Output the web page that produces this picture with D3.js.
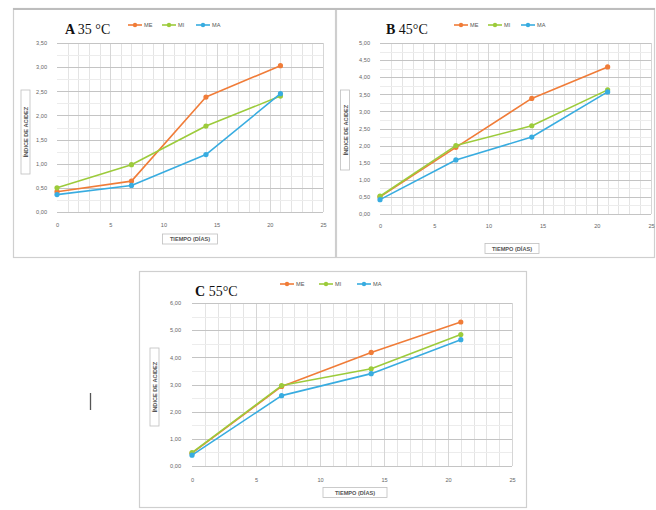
<!DOCTYPE html>
<html><head><meta charset="utf-8">
<script src="https://cdn.jsdelivr.net/npm/d3@7/dist/d3.min.js"></script>
<style>body{margin:0;background:#fff;}svg{display:block;}</style>
</head><body>
<svg id="c" width="656" height="510"></svg>
<script>
const days = [0, 7, 14, 21];
const xTicks = [0, 5, 10, 15, 20, 25];
const seriesNames = ["ME", "MI", "MA"];
const colors = ["#F07C38", "#9CCB3B", "#38ACE0"];

const A_ME = [0.42, 0.64, 2.38, 3.03];
const A_MI = [0.50, 0.98, 1.78, 2.40];
const A_MA = [0.36, 0.55, 1.19, 2.45];
const A_yTicks = [0, 0.5, 1, 1.5, 2, 2.5, 3, 3.5];

const B_ME = [0.50, 1.95, 3.38, 4.30];
const B_MI = [0.52, 2.00, 2.58, 3.63];
const B_MA = [0.42, 1.58, 2.25, 3.57];
const B_yTicks = [0, 0.5, 1, 1.5, 2, 2.5, 3, 3.5, 4, 4.5, 5];

const C_ME = [0.47, 2.93, 4.18, 5.30];
const C_MI = [0.49, 2.96, 3.58, 4.84];
const C_MA = [0.40, 2.59, 3.40, 4.65];
const C_yTicks = [0, 1, 2, 3, 4, 5, 6];

const svg = d3.select("#c");
const fmt = v => d3.format(".2f")(v).replace(".", ",");

function frame(x, y, w, h) {
  svg.append("rect").attr("x", x).attr("y", y).attr("width", w).attr("height", h)
    .attr("fill", "#fff").attr("stroke", "#cfcfcf").attr("stroke-width", 1.2);
}
frame(13.5, 8.5, 322, 249);
frame(336.5, 8.5, 318, 249);
svg.append("line").attr("x1", 13).attr("x2", 655).attr("y1", 9).attr("y2", 9).attr("stroke", "#bdbdbd").attr("stroke-width", 2);
frame(139.5, 271.5, 387, 236);
svg.append("line").attr("x1", 90.5).attr("x2", 90.5).attr("y1", 393).attr("y2", 410).attr("stroke", "#555").attr("stroke-width", 1.3);

function panel(cfg) {
  const g = svg.append("g");
  const x = d3.scaleLinear().domain([0, 25]).range([cfg.x0, cfg.x1]);
  const yMax = cfg.yTicks[cfg.yTicks.length - 1];
  const y = d3.scaleLinear().domain([0, yMax]).range([cfg.y0, cfg.y1]);
  const step = cfg.yTicks[1] - cfg.yTicks[0];
  g.append("g").selectAll("line").data(d3.range(1, 25).filter(d => d % 5 !== 0)).join("line")
    .attr("x1", d => Math.round(x(d)) + 0.5).attr("x2", d => Math.round(x(d)) + 0.5)
    .attr("y1", cfg.y0).attr("y2", cfg.y1).attr("stroke", "#e4e4e4").attr("stroke-width", 1);
  const minor = [];
  cfg.yTicks.slice(0, -1).forEach(t => { minor.push(t + step / 2); });
  g.append("g").selectAll("line").data(minor).join("line")
    .attr("x1", cfg.x0).attr("x2", cfg.x1)
    .attr("y1", d => Math.round(y(d)) + 0.5).attr("y2", d => Math.round(y(d)) + 0.5)
    .attr("stroke", "#ececec");
  g.append("g").selectAll("line").data(xTicks.slice(1)).join("line")
    .attr("x1", d => Math.round(x(d)) + 0.5).attr("x2", d => Math.round(x(d)) + 0.5)
    .attr("y1", cfg.y0).attr("y2", cfg.y1).attr("stroke", "#d6d6d6");
  g.append("g").selectAll("line").data(cfg.yTicks).join("line")
    .attr("x1", cfg.x0).attr("x2", cfg.x1)
    .attr("y1", d => Math.round(y(d)) + 0.5).attr("y2", d => Math.round(y(d)) + 0.5)
    .attr("stroke", "#c4c4c4").attr("stroke-width", 1.2);

  const ya = d3.axisLeft(y).tickValues(cfg.yTicks).tickFormat(fmt).tickSize(0).tickPadding(cfg.ypad);
  const yg = g.append("g").attr("transform", `translate(${cfg.x0},0)`).call(ya);
  yg.select(".domain").remove();
  yg.selectAll("text").attr("font-family", "Liberation Sans, Arial, sans-serif").attr("font-size", 5.6).attr("fill", "#666");
  const xa = d3.axisBottom(x).tickValues(xTicks).tickSize(0).tickPadding(cfg.xpad);
  const xg = g.append("g").attr("transform", `translate(0,${cfg.y0})`).call(xa);
  xg.select(".domain").remove();
  xg.selectAll("text").attr("font-family", "Liberation Sans, Arial, sans-serif").attr("font-size", 5.6).attr("fill", "#666");

  const yt = g.append("g").attr("transform", `translate(${cfg.ytx},${cfg.yty}) rotate(-90)`);
  yt.append("rect").attr("x", -cfg.ytw / 2).attr("y", -5).attr("width", cfg.ytw).attr("height", 9)
    .attr("fill", "#fff").attr("stroke", "#bfbfbf").attr("stroke-width", 0.8);
  yt.append("text").attr("text-anchor", "middle").attr("y", 2.2).attr("font-family", "Liberation Sans, Arial, sans-serif")
    .attr("font-size", 5.6).attr("font-weight", "bold").attr("fill", "#555").text("ÍNDICE DE ACIDEZ");
  const xt = g.append("g").attr("transform", `translate(${cfg.xtx},${cfg.xty})`);
  xt.append("rect").attr("x", -cfg.xtw / 2).attr("y", -5).attr("width", cfg.xtw).attr("height", 10)
    .attr("fill", "#fff").attr("stroke", "#bfbfbf").attr("stroke-width", 0.8);
  xt.append("text").attr("text-anchor", "middle").attr("y", 2.2).attr("font-family", "Liberation Sans, Arial, sans-serif")
    .attr("font-size", 5.6).attr("font-weight", "bold").attr("fill", "#555").text("TIEMPO (DÍAS)");

  const line = d3.line().x((d, i) => x(days[i])).y(d => y(d));
  cfg.series.forEach((s, k) => {
    g.append("path").datum(s).attr("d", line).attr("fill", "none")
      .attr("stroke", colors[k]).attr("stroke-width", 1.6).attr("stroke-linejoin", "round");
    g.append("g").selectAll("circle").data(s).join("circle")
      .attr("cx", (d, i) => x(days[i])).attr("cy", d => y(d)).attr("r", 2.6)
      .attr("fill", colors[k]);
  });

  const tt = g.append("text").attr("x", cfg.tx).attr("y", cfg.ty)
    .attr("font-family", "Liberation Serif, Times New Roman, serif").attr("font-size", 14).attr("fill", "#111");
  tt.append("tspan").attr("font-weight", "bold").text(cfg.letter + " ");
  tt.append("tspan").text(cfg.temp);

  cfg.legX.forEach((lx, k) => {
    const lg = g.append("g").attr("transform", `translate(${lx},${cfg.legY})`);
    lg.append("line").attr("x1", 0).attr("x2", 14).attr("stroke", colors[k]).attr("stroke-width", 1.6);
    lg.append("circle").attr("cx", 7).attr("r", 2.2).attr("fill", colors[k]);
    lg.append("text").attr("x", 16).attr("y", 2).attr("font-family", "Liberation Sans, Arial, sans-serif")
      .attr("font-size", 5.6).attr("fill", "#555").text(seriesNames[k]);
  });
}

panel({ x0: 57, x1: 323, y0: 212, y1: 43, yTicks: A_yTicks, series: [A_ME, A_MI, A_MA], ypad: 10, xpad: 11,
  ytx: 26, yty: 132, ytw: 84, xtx: 190, xty: 239, xtw: 55,
  letter: "A", temp: "35 °C", tx: 65, ty: 34, legX: [128, 162, 196], legY: 25 });
panel({ x0: 380, x1: 651, y0: 214, y1: 43, yTicks: B_yTicks, series: [B_ME, B_MI, B_MA], ypad: 10, xpad: 10,
  ytx: 345.5, yty: 130, ytw: 80, xtx: 512, xty: 248.5, xtw: 54,
  letter: "B", temp: "45°C", tx: 386, ty: 34, legX: [454, 488, 521], legY: 25 });
panel({ x0: 192, x1: 512, y0: 466, y1: 303, yTicks: C_yTicks, series: [C_ME, C_MI, C_MA], ypad: 11, xpad: 12,
  ytx: 155, yty: 387, ytw: 78, xtx: 355, xty: 492.5, xtw: 64,
  letter: "C", temp: "55°C", tx: 195, ty: 296, legX: [280, 319, 357], legY: 284 });
</script>
</body></html>
